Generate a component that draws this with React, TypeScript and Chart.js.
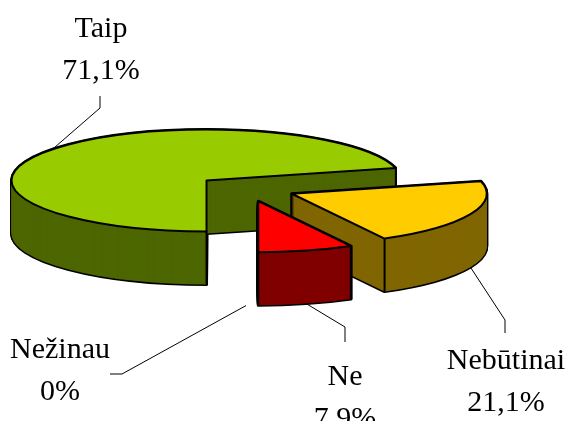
import React, { useEffect, useRef } from "react";
import { Chart, registerables } from "chart.js";

Chart.register(...registerables);

const categories = ["Taip", "Nebūtinai", "Ne", "Nežinau"];
const values = [71.1, 21.1, 7.9, 0];
const valueLabels = ["71,1%", "21,1%", "7,9%", "0%"];
const topColors = ["#99cc00", "#ffcc00", "#ff0000", "#ff9900"];
const wallColors = ["#4d6600", "#806600", "#800000", "#804d00"];

const TILT = 0.2615;
const DEPTH = 53;
const EXPLODE = 50;
const FONT = '30px "Liberation Serif", serif';

type P = [number, number];
// Placement of each label and the bends of its leader line.
const labelCenters: P[] = [[101, 37], [506, 369], [345, 385], [60, 358]];
const leaderBends: P[][] = [
  [[100, 108], [100, 96]],
  [[505, 320], [505, 333]],
  [[345, 327], [345, 342]],
  [[122, 374], [110, 374]],
];
const leaderUsesFront = [false, true, true, true];

function geometry(el: any) {
  const p = el.getProps(["x", "y", "startAngle", "endAngle", "outerRadius"], true);
  const mid = (p.startAngle + p.endAngle) / 2;
  return {
    ox: p.x,
    oy: p.y,
    x: p.x + Math.cos(mid) * EXPLODE,
    y: p.y + Math.sin(mid) * EXPLODE * TILT,
    r: p.outerRadius,
    start: p.startAngle,
    end: p.endAngle,
    mid,
  };
}

function slicePath(ctx: CanvasRenderingContext2D, g: any, dy: number) {
  ctx.beginPath();
  ctx.save();
  ctx.translate(g.x, g.y + dy);
  ctx.scale(1, TILT);
  ctx.moveTo(0, 0);
  ctx.arc(0, 0, g.r, g.start, g.end);
  ctx.closePath();
  ctx.restore();
}

const pie3d = {
  id: "pie3d",
  beforeDatasetDraw(chart: any) {
    const ctx: CanvasRenderingContext2D = chart.ctx;
    const arcs = chart.getDatasetMeta(0).data;
    arcs.forEach((el: any, i: number) => {
      if (!values[i]) return;
      const g = geometry(el);
      ctx.save();
      ctx.lineJoin = "round";
      ctx.strokeStyle = "#000";
      ctx.lineWidth = 3;
      for (let d = DEPTH; d >= 0; d--) {
        slicePath(ctx, g, d);
        ctx.stroke();
      }
      ctx.fillStyle = wallColors[i];
      for (let d = DEPTH; d >= 0; d--) {
        slicePath(ctx, g, d);
        ctx.fill();
      }
      ctx.lineWidth = 2;
      [g.start, g.end].forEach((a) => {
        // corners on the far half of the ellipse have no visible edge
        if (Math.sin(a) < 0) return;
        const px = g.x + Math.cos(a) * g.r;
        const py = g.y + Math.sin(a) * g.r * TILT;
        ctx.beginPath();
        ctx.moveTo(px, py);
        ctx.lineTo(px, py + DEPTH);
        ctx.stroke();
      });
      ctx.restore();
      // the top face: the library's own arc element, flattened and moved out
      ctx.save();
      ctx.translate(g.x, g.y);
      ctx.scale(1, TILT);
      ctx.translate(-g.ox, -g.oy);
      el.draw(ctx);
      ctx.restore();
      ctx.save();
      ctx.strokeStyle = "#000";
      ctx.lineWidth = 2;
      ctx.lineJoin = "round";
      slicePath(ctx, g, 0);
      ctx.stroke();
      ctx.restore();
    });
    return false;
  },
  afterDraw(chart: any) {
    const ctx: CanvasRenderingContext2D = chart.ctx;
    const arcs = chart.getDatasetMeta(0).data;
    ctx.save();
    arcs.forEach((el: any, i: number) => {
      const g = geometry(el);
      // leader line from the rim of the slice
      const sx = g.x + Math.cos(g.mid) * g.r;
      const sy = g.y + Math.sin(g.mid) * g.r * TILT + (leaderUsesFront[i] ? DEPTH : 0);
      ctx.strokeStyle = "#000";
      ctx.lineWidth = 1;
      ctx.beginPath();
      ctx.moveTo(sx, sy);
      leaderBends[i].forEach(([x, y]) => ctx.lineTo(x, y));
      ctx.stroke();
      // label
      const [lx, ly] = labelCenters[i];
      ctx.fillStyle = "#000";
      ctx.font = FONT;
      ctx.textAlign = "center";
      ctx.textBaseline = "alphabetic";
      ctx.fillText(categories[i], lx, ly);
      ctx.fillText(valueLabels[i], lx, ly + 42);
    });
    ctx.restore();
  },
};

export default function App() {
  const ref = useRef<HTMLCanvasElement | null>(null);
  useEffect(() => {
    const chart = new Chart(ref.current as HTMLCanvasElement, {
      type: "pie",
      data: {
        labels: categories,
        datasets: [
          {
            data: values,
            backgroundColor: topColors,
            borderWidth: 0,
            clip: false,
          } as any,
        ],
      },
      options: {
        responsive: false,
        animation: false,
        rotation: 180,
        radius: 195,
        layout: { padding: { left: 0, top: 0, right: 75, bottom: 44 } },
        plugins: { legend: { display: false }, tooltip: { enabled: false } },
        events: [],
      } as any,
      plugins: [pie3d],
    });
    return () => chart.destroy();
  }, []);
  return (
    <div style={{ position: "fixed", left: 0, top: 0, width: 567, height: 421, background: "#fff" }}>
      <canvas ref={ref} width={567} height={421} style={{ display: "block" }} />
    </div>
  );
}
